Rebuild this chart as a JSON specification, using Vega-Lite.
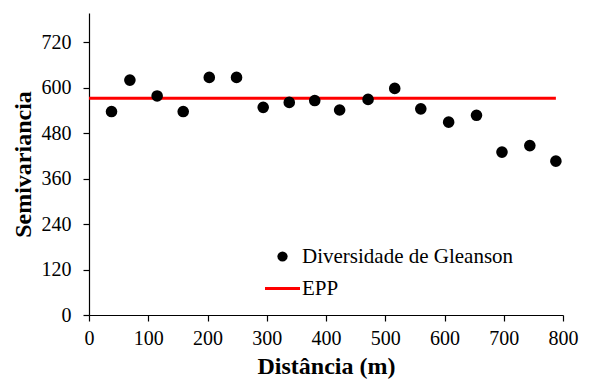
{
  "$schema": "https://vega.github.io/schema/vega-lite/v6.json",
  "width": 474,
  "height": 302,
  "autosize": "none",
  "padding": {"left": 89, "top": 13, "right": 26, "bottom": 66},
  "background": "white",
  "config": {
    "view": {"stroke": null},
    "font": "Liberation Serif, Times New Roman, serif",
    "axis": {
      "grid": false,
      "labelFlush": false,
      "domainColor": "black",
      "domainWidth": 1.2,
      "tickColor": "black",
      "tickWidth": 1.2,
      "tickSize": 6,
      "labelFont": "Liberation Serif, Times New Roman, serif",
      "labelFontSize": 20,
      "labelColor": "black",
      "titleFont": "Liberation Serif, Times New Roman, serif",
      "titleFontSize": 24,
      "titleFontWeight": "bold",
      "titleColor": "black"
    }
  },
  "datasets": {
    "pts": [
      {"d": 38, "s": 537, "serie": "Diversidade de Gleanson"},
      {"d": 69, "s": 620, "serie": "Diversidade de Gleanson"},
      {"d": 115, "s": 578, "serie": "Diversidade de Gleanson"},
      {"d": 159, "s": 537, "serie": "Diversidade de Gleanson"},
      {"d": 203, "s": 627, "serie": "Diversidade de Gleanson"},
      {"d": 249, "s": 627, "serie": "Diversidade de Gleanson"},
      {"d": 294, "s": 548, "serie": "Diversidade de Gleanson"},
      {"d": 338, "s": 561, "serie": "Diversidade de Gleanson"},
      {"d": 381, "s": 566, "serie": "Diversidade de Gleanson"},
      {"d": 423, "s": 541, "serie": "Diversidade de Gleanson"},
      {"d": 471, "s": 569, "serie": "Diversidade de Gleanson"},
      {"d": 516, "s": 598, "serie": "Diversidade de Gleanson"},
      {"d": 560, "s": 544, "serie": "Diversidade de Gleanson"},
      {"d": 607, "s": 509, "serie": "Diversidade de Gleanson"},
      {"d": 654, "s": 527, "serie": "Diversidade de Gleanson"},
      {"d": 697, "s": 430, "serie": "Diversidade de Gleanson"},
      {"d": 744, "s": 447, "serie": "Diversidade de Gleanson"},
      {"d": 788, "s": 406, "serie": "Diversidade de Gleanson"}
    ],
    "epp": [
      {"d": 0, "s": 572, "serie": "EPP"},
      {"d": 788, "s": 572, "serie": "EPP"}
    ]
  },
  "encoding": {
    "x": {
      "field": "d", "type": "quantitative",
      "scale": {"domain": [0, 800], "nice": false},
      "axis": {"title": "Distância (m)", "values": [0,100,200,300,400,500,600,700,800], "labelPadding": 7, "titlePadding": 6}
    },
    "y": {
      "field": "s", "type": "quantitative",
      "scale": {"domain": [0, 797], "nice": false},
      "axis": {"title": "Semivariancia", "values": [0,120,240,360,480,600,720], "labelPadding": 12, "titlePadding": 6}
    },
    "color": {
      "field": "serie", "type": "nominal",
      "scale": {"domain": ["Diversidade de Gleanson", "EPP"], "range": ["black", "#ff0000"]},
      "legend": {
        "title": null,
        "orient": "none",
        "legendX": 183,
        "legendY": 233,
        "padding": 0,
        "labelFont": "Liberation Serif, Times New Roman, serif",
        "labelFontSize": 21,
        "labelColor": "black",
        "labelOffset": 9,
        "labelLimit": 0,
        "symbolSize": 1225,
        "rowPadding": 10,
        "encode": {
          "symbols": {
            "update": {
              "shape": {"signal": "datum.value === 'EPP' ? 'stroke' : 'circle'"},
              "size": {"signal": "datum.value === 'EPP' ? 1225 : 105"},
              "strokeWidth": {"signal": "datum.value === 'EPP' ? 3 : 0"},
              "fill": {"signal": "datum.value === 'EPP' ? 'transparent' : 'black'"},
              "stroke": {"signal": "datum.value === 'EPP' ? '#ff0000' : 'black'"},
              "opacity": {"value": 1}
            }
          }
        }
      }
    }
  },
  "layer": [
    {
      "data": {"name": "epp"},
      "mark": {"type": "line", "strokeWidth": 3}
    },
    {
      "data": {"name": "pts"},
      "mark": {"type": "point", "filled": true, "size": 135, "opacity": 1}
    }
  ]
}
